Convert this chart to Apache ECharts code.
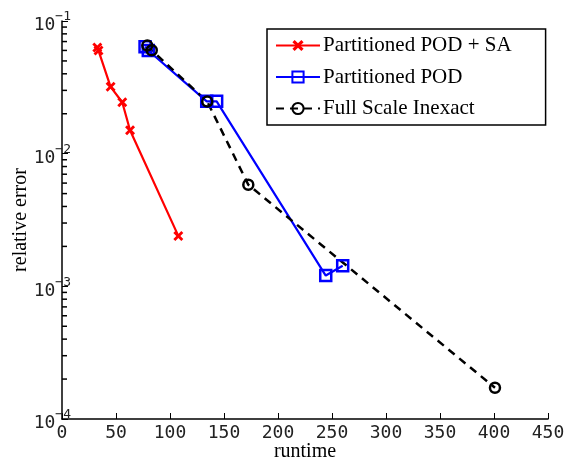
<!DOCTYPE html>
<html>
<head>
<meta charset="utf-8">
<script src="https://cdn.jsdelivr.net/npm/echarts@6/dist/echarts.min.js"></script>
<style>html,body{margin:0;padding:0;background:#fff}#c{width:578px;height:461px}</style>
</head>
<body>
<div id="c"></div>
<script>
// Data
const seriesNames = ['Partitioned POD + SA', 'Partitioned POD', 'Full Scale Inexact'];
const saRuntime = [32.7, 33.8, 45.0, 55.8, 63.0, 107.7];
const saError   = [0.063, 0.0599, 0.0319, 0.0244, 0.0150, 0.0024];
const podRuntime = [76.9, 79.9, 134.0, 143.2, 244.2, 259.9];
const podError   = [0.0639, 0.0599, 0.0248, 0.0248, 0.001206, 0.001428];
const fullRuntime = [79.0, 83.1, 134.5, 172.5, 400.9];
const fullError   = [0.0653, 0.0602, 0.0247, 0.00583, 0.000172];
const xTicks = [0, 50, 100, 150, 200, 250, 300, 350, 400, 450];
const yMajor = [1e-4, 1e-3, 1e-2, 1e-1];
const yMinor = [];
for (let e = -4; e < -1; e++) for (let m = 2; m <= 9; m++) yMinor.push(+(m * Math.pow(10, e)).toPrecision(3));

const zip = (a, b) => a.map((v, i) => [v, b[i]]);
const serif = 'Liberation Serif';
const mono = 'DejaVu Sans Mono';
const xPath = 'path://M2,0 L5,3 L8,0 L10,2 L7,5 L10,8 L8,10 L5,7 L2,10 L0,8 L3,5 L0,2 Z';

const chart = echarts.init(document.getElementById('c'), null, {renderer: 'canvas'});
chart.setOption({
  animation: false,
  backgroundColor: '#fff',
  grid: {left: 62, right: 30, top: 21, bottom: 42, containLabel: false, outerBoundsMode: 'none'},
  legend: {
    orient: 'vertical',
    left: 267, top: 29,
    padding: [6, 34, 6, 8],
    itemWidth: 44, itemHeight: 14, itemGap: 10.5,
    backgroundColor: '#fff',
    borderColor: '#000', borderWidth: 1.5,
    textStyle: {fontFamily: serif, fontSize: 21, color: '#000', padding: [0, 0, 0, -2]},
    data: seriesNames
  },
  xAxis: {
    type: 'value', min: 0, max: 450, interval: 50,
    name: 'runtime', nameLocation: 'middle', nameGap: 23, nameMoveOverlap: false,
    nameTextStyle: {fontFamily: serif, fontSize: 20, color: '#000'},
    axisLine: {show: true, lineStyle: {color: '#000', width: 1.5}},
    axisTick: {show: true, inside: true, length: 6, lineStyle: {color: '#000', width: 1}},
    axisLabel: {fontFamily: mono, fontSize: 18, color: '#222', margin: 5},
    splitLine: {show: false}
  },
  yAxis: {
    type: 'log', logBase: 10, min: 1e-4, max: 1e-1,
    name: 'relative error', nameLocation: 'middle', nameGap: 31, nameMoveOverlap: false,
    nameTextStyle: {fontFamily: serif, fontSize: 20, color: '#000'},
    axisLine: {show: true, lineStyle: {color: '#000', width: 1.5}},
    axisTick: {show: true, inside: true, length: 6, lineStyle: {color: '#000', width: 1}},
    axisLabel: {
      margin: -9,
      formatter: function (v) {
        const e = Math.round(Math.log10(v));
        return '{b|10}{s|\u2212' + Math.abs(e) + '}';
      },
      rich: {
        b: {fontFamily: mono, fontSize: 18, color: '#222', padding: [9, 0, 0, 0]},
        s: {fontFamily: mono, fontSize: 13, color: '#222', padding: [0, 0, 8, 0]}
      }
    },
    splitLine: {show: false}
  },
  series: [{
    name: 'minorTicks', type: 'scatter', silent: true, clip: false, z: 5,
    data: yMinor.map(v => [0, v]),
    symbol: 'rect', symbolSize: [5, 1.5], symbolOffset: [2.5, 0],
    itemStyle: {color: '#000', opacity: 1}
  }, {
    name: seriesNames[0], type: 'line', data: zip(saRuntime, saError),
    symbol: xPath, symbolSize: 10,
    itemStyle: {color: '#ff0000'},
    lineStyle: {color: '#ff0000', width: 2.2}
  }, {
    name: seriesNames[1], type: 'line', data: zip(podRuntime, podError),
    symbol: 'rect', symbolSize: 11,
    itemStyle: {color: 'rgba(255,255,255,0)', borderColor: '#0000ff', borderWidth: 2.5},
    lineStyle: {color: '#0000ff', width: 2.2}
  }, {
    name: seriesNames[2], type: 'line', data: zip(fullRuntime, fullError),
    symbol: 'circle', symbolSize: 10,
    itemStyle: {color: 'rgba(255,255,255,0)', borderColor: '#000', borderWidth: 2.5},
    lineStyle: {color: '#000', width: 2.5, type: [8, 6]}
  }]
});
</script>
</body>
</html>
